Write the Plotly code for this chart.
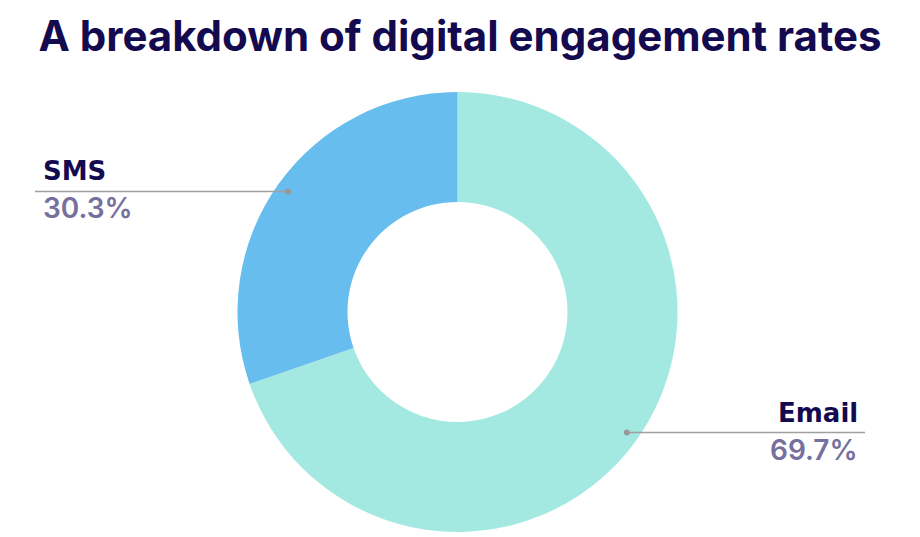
import math
import plotly.graph_objects as go

# data
channels = ["Email", "SMS"]
shares = [69.7, 30.3]
colors = ["#A3E9E1", "#67BDEE"]

W, H = 920, 537
NAVY = "#140a4f"
MUTED = "#75709e"

# donut placement in pixels (center + radius)
cx, cy, R = 457.5, 312, 220

fig = go.Figure(go.Pie(
    labels=channels,
    values=shares,
    marker=dict(colors=colors, line=dict(width=0)),
    hole=0.5,
    sort=False,
    direction="clockwise",
    rotation=0,
    textinfo="none",
    hoverinfo="label+percent",
    domain=dict(x=[(cx - R) / W, (cx + R) / W],
                y=[1 - (cy + R) / H, 1 - (cy - R) / H]),
))

def px2paper(x, y):
    return x / W, 1 - y / H

# leader lines + labels, placed at each slice's mid angle
total = sum(shares)
start = 0
for name, val in zip(channels, shares):
    mid = (start + val / 2) / total * 2 * math.pi
    start += val
    dx = cx + 0.945 * R * math.sin(mid)
    dy = cy - 0.945 * R * math.cos(mid)
    right = math.sin(mid) > 0
    ex = 865 if right else 35
    x0, y0 = px2paper(dx, dy)
    x1, _ = px2paper(ex, dy)
    fig.add_shape(type="line", xref="paper", yref="paper",
                  x0=x0, y0=y0, x1=x1, y1=y0,
                  line=dict(color="#a0a0a0", width=1.5))
    fig.add_shape(type="circle", xref="paper", yref="paper",
                  x0=x0 - 3 / W, x1=x0 + 3 / W, y0=y0 - 3 / H, y1=y0 + 3 / H,
                  fillcolor="#999999", line=dict(width=0))
    tx = (860 if right else 41) / W
    anchor = "right" if right else "left"
    fig.add_annotation(x=tx, y=1 - (dy - 20) / H, xref="paper", yref="paper",
                       text=name, showarrow=False, xanchor=anchor, yanchor="middle",
                       font=dict(family="DejaVu Sans", size=26, color=NAVY, weight=700))
    fig.add_annotation(x=tx, y=1 - (dy + 17) / H, xref="paper", yref="paper",
                       text=f"{val}%", showarrow=False, xanchor=anchor, yanchor="middle",
                       font=dict(family="Inter", size=28, color=MUTED, weight=600))

fig.update_layout(
    width=W, height=H,
    margin=dict(l=0, r=0, t=0, b=0),
    paper_bgcolor="white",
    plot_bgcolor="white",
    showlegend=False,
    title=dict(text="A breakdown of digital engagement rates",
               x=0.5, xanchor="center", y=1 - 36 / H, yanchor="middle",
               font=dict(family="Inter", size=42, color=NAVY, weight=700)),
)

# drop the default body margin so the figure sits at the page corner
fig.write_html("out.html", config={"displayModeBar": False},
               post_script="document.body.style.margin='0';")
